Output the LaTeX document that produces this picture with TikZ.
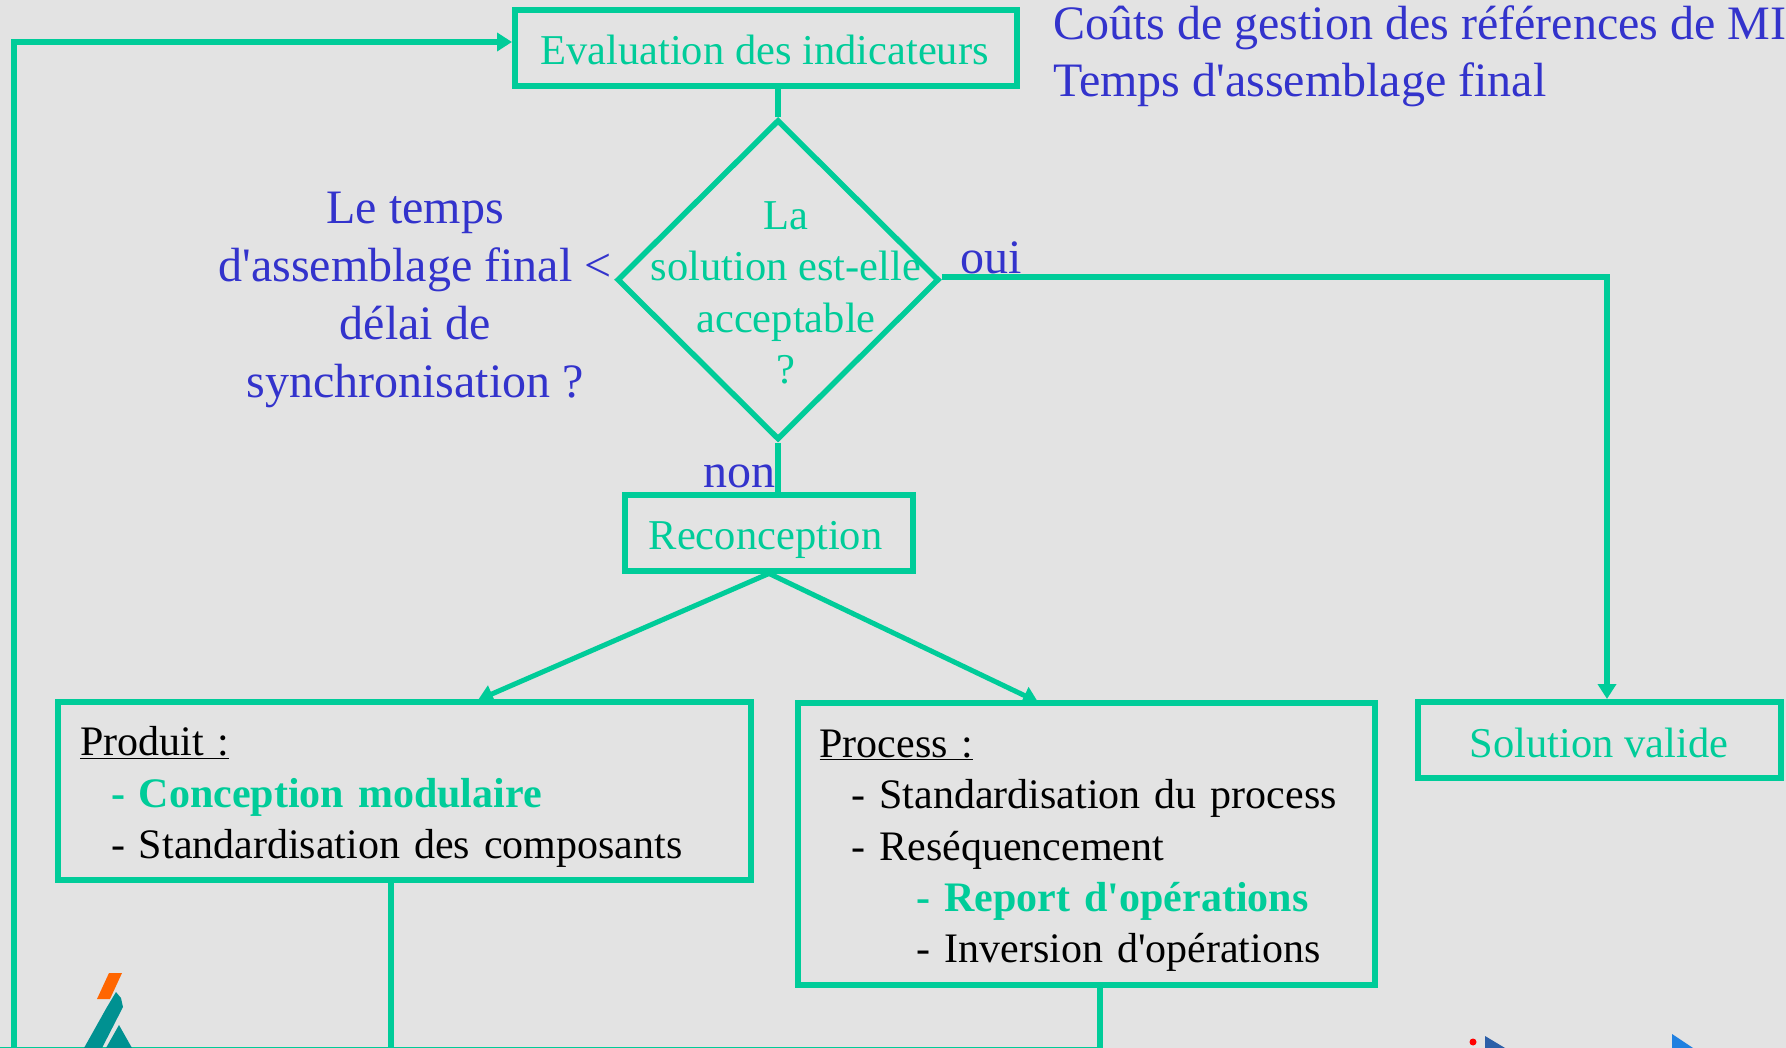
\documentclass[tikz,border=0pt]{standalone}
\usepackage{fontspec}
\setmainfont{Liberation Serif}[Ligatures=TeXOff]
\usepackage{xcolor}
\usetikzlibrary{shapes.geometric}
\usetikzlibrary{arrows.meta}
\usetikzlibrary{positioning}
\definecolor{flowgreen}{HTML}{00CC99}
\definecolor{noteblue}{HTML}{3333CC}
\definecolor{slidegrey}{HTML}{E3E3E3}
\definecolor{logoteal}{HTML}{009191}
\definecolor{logoorange}{HTML}{FF6600}
\definecolor{logoblue}{HTML}{2B5FA8}
\definecolor{logosky}{HTML}{2080E0}

\begin{document}
\begin{tikzpicture}[x=1pt,y=-1pt]
\tikzset{flowbox/.style={rectangle,draw=flowgreen,line width=6pt,text=flowgreen,font=\fontsize{42.5}{51.3}\selectfont,inner sep=0pt,text height=34pt,text depth=0pt},
  listbox/.style={flowbox,text=black,font=\fontsize{42}{51.3}\selectfont,align=left,inner xsep=22pt,text depth={},text height=41pt},
  decision/.style={diamond,draw=flowgreen,line width=5.5pt,inner sep=0pt,minimum width=322pt,minimum height=320pt},
  note/.style={text=noteblue,font=\fontsize{48}{57.8}\selectfont,inner sep=0pt},
  flowline/.style={draw=flowgreen,line width=6pt},
  flowarrow/.style={flowline,-{Triangle[length=15pt,width=18pt]}},
  splitarrow/.style={flowarrow,line width=5pt}}
\fill[slidegrey](0,0) rectangle (1786,1048);
\useasboundingbox(0,0) rectangle (1786,1048);
\node[flowbox,minimum width=502pt,minimum height=76pt](eval) at (766,48){Evaluation des indicateurs\hspace*{3pt}};
\node[decision](dia)[below=28pt of eval,xshift=12pt]{};
\node[text=flowgreen,font=\fontsize{42.5}{51.3}\selectfont,align=center,inner sep=0pt](diatext) at (786,293){La\\solution est-elle\\acceptable\\?};
\node[flowbox,minimum width=288pt,minimum height=76pt](recon)[below=49pt of dia,xshift=-9pt]{Reconception\hspace*{7pt}};
\node[listbox,text width=649pt,minimum height=178pt](prod) at (404.5,791){\underline{Produit :}\\
  \hspace*{31pt}{\bfseries\color{flowgreen}- Conception modulaire}\\
  \hspace*{31pt}- Standardisation des composants};
\node[listbox,text width=533pt,minimum height=282pt](process)[right=40.5pt of prod,yshift=-53pt]{\underline{Process :}\\
  \hspace*{32pt}- Standardisation du process\\
  \hspace*{32pt}- Reséquencement\\
  \hspace*{97pt}{\bfseries\color{flowgreen}- Report d'opérations}\\
  \hspace*{97pt}- Inversion d'opérations};
\node[flowbox,minimum width=363pt,minimum height=76pt](valid)[right=37pt of process,yshift=104pt]{Solution valide};
\node[note,anchor=base west,align=left](costs) at (1053,97){Coûts de gestion des références de MI\\Temps d'assemblage final};
\node[note,align=center](question) at (415,300){Le temps\\d'assemblage final <\\délai de\\synchronisation ?};
\node[note,anchor=base west](yes) at (960,274){oui};
\node[note,anchor=base west](no) at (703,487){non};
\coordinate (loopstart) at (14,1048);
\coordinate (loopcorner) at (14,42);
\coordinate (prodend) at (391,1048);
\coordinate (processend) at (1100,1048);
\coordinate (validcorner) at (1607,277);
\coordinate (prodin) at (478,700);
\coordinate (processin) at (1038,702);
\coordinate (edgeleft) at (0,1047.3);
\draw[flowline](dia.north |- eval.south) -- (dia.north);
\draw[flowline](dia.south) -- (dia.south |- recon.north);
\draw[flowarrow](dia.east |- validcorner) -- (validcorner) -- (validcorner |- valid.north);
\draw[flowarrow](loopstart) -- (loopcorner) -- (eval.west |- loopcorner);
\draw[splitarrow](recon.south) -- (prodin);
\draw[splitarrow](recon.south) -- (processin);
\draw[flowline](prodend |- prod.south) -- (prodend);
\draw[flowline](processend |- process.south) -- (processend);
\draw[flowline,line width=1.5pt](edgeleft) -- (processend |- edgeleft);
\fill[logoorange](97,999) -- (109,973) -- (122,973) -- (110,999) -- cycle;
\fill[logoteal](116,992) -- (121,998) -- (123,1007) -- (102,1048) -- (84,1048) -- (107,1007) -- cycle;
\fill[logoteal](119,1025) -- (132,1048) -- (106,1048) -- cycle;
\fill[red](1473,1042) circle (3.5);
\fill[logoblue](1485,1036) -- (1505,1048) -- (1485,1048) -- cycle;
\fill[logosky](1672,1034) -- (1693,1048) -- (1672,1048) -- cycle;
\end{tikzpicture}
\end{document}
